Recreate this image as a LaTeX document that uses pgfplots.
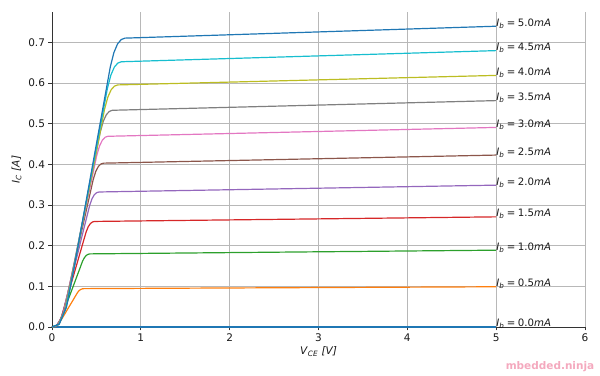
\documentclass[border=0pt]{standalone}
\usepackage{fontspec}
\setmainfont{DejaVu Sans}
\usepackage{pgfplots}
\pgfplotsset{compat=1.18}
\definecolor{c0}{HTML}{1F77B4}
\definecolor{c1}{HTML}{FF7F0E}
\definecolor{c2}{HTML}{2CA02C}
\definecolor{c3}{HTML}{D62728}
\definecolor{c4}{HTML}{9467BD}
\definecolor{c5}{HTML}{8C564B}
\definecolor{c6}{HTML}{E377C2}
\definecolor{c7}{HTML}{7F7F7F}
\definecolor{c8}{HTML}{BCBD22}
\definecolor{c9}{HTML}{17BECF}
\definecolor{spine}{HTML}{333333}
\definecolor{wm}{HTML}{F4A9BE}
\newcommand{\lab}[1]{\textit{I}\textsubscript{\textit{b}}\hspace{2.5bp}=\hspace{2.5bp}#1\textit{mA}}
\begin{document}
\begin{tikzpicture}
\begin{axis}[name=ax, scale only axis, width=533bp, height=315bp,
  xmin=0, xmax=6, ymin=0, ymax=0.775,
  axis x line*=bottom, axis y line*=left,
  axis line style={-, draw=spine, line width=0.8bp},
  tick align=outside, major tick length=3.5bp,
  tick style={spine, line width=0.8bp},
  grid=major, grid style={color=black!28, line width=0.8bp},
  xtick={0,1,2,3,4,5,6},
  ytick={0,0.1,0.2,0.3,0.4,0.5,0.6,0.7},
  yticklabel style={/pgf/number format/.cd, fixed, fixed zerofill, precision=1},
  /pgf/number format/assume math mode=true,
  ticklabel style={font=\fontsize{10.5bp}{12bp}\selectfont, text=black!90},
  xlabel={\textit{V}\textsubscript{\textit{CE}} \textit{[V]}},
  ylabel={\textit{I}\textsubscript{\textit{C}} \textit{[A]}},
  label style={font=\fontsize{10.5bp}{12bp}\selectfont, text=black!90},
  xlabel style={yshift=2bp},
  clip=false,
  every axis plot/.append style={line width=1.2bp},
]
\addplot[c0] coordinates {(0,0) (5,0)};
\addplot[c1] coordinates {(0,0) (0.036,0.0009) (0.072,0.0066) (0.108,0.0189) (0.144,0.0321) (0.18,0.0453) (0.216,0.0585) (0.252,0.0717) (0.288,0.0850) (0.306,0.0897) (0.324,0.0925) (0.342,0.0939) (0.36,0.0944) (5,0.099)};
\addplot[c2] coordinates {(0,0) (0.043,0.0018) (0.086,0.0126) (0.129,0.0360) (0.172,0.0612) (0.215,0.0864) (0.258,0.1115) (0.301,0.1367) (0.344,0.1619) (0.3655,0.1709) (0.387,0.1763) (0.4085,0.1790) (0.43,0.1799) (5,0.189)};
\addplot[c3] coordinates {(0,0) (0.048,0.0026) (0.096,0.0182) (0.144,0.0519) (0.192,0.0883) (0.24,0.1247) (0.288,0.1610) (0.336,0.1974) (0.384,0.2337) (0.408,0.2467) (0.432,0.2545) (0.456,0.2584) (0.48,0.2597) (5,0.271)};
\addplot[c4] coordinates {(0,0) (0.053,0.0033) (0.106,0.0233) (0.159,0.0664) (0.212,0.1129) (0.265,0.1595) (0.318,0.2060) (0.371,0.2525) (0.424,0.2990) (0.4505,0.3156) (0.477,0.3256) (0.5035,0.3305) (0.53,0.3322) (5,0.349)};
\addplot[c5] coordinates {(0,0) (0.058,0.0040) (0.116,0.0282) (0.174,0.0806) (0.232,0.1371) (0.29,0.1935) (0.348,0.2499) (0.406,0.3064) (0.464,0.3628) (0.493,0.3829) (0.522,0.3950) (0.551,0.4011) (0.58,0.4031) (5,0.423)};
\addplot[c6] coordinates {(0,0) (0.063,0.0047) (0.126,0.0328) (0.189,0.0938) (0.252,0.1595) (0.315,0.2252) (0.378,0.2909) (0.441,0.3566) (0.504,0.4223) (0.5355,0.4457) (0.567,0.4598) (0.5985,0.4669) (0.63,0.4692) (5,0.491)};
\addplot[c7] coordinates {(0,0) (0.068,0.0053) (0.136,0.0373) (0.204,0.1066) (0.272,0.1813) (0.34,0.2559) (0.408,0.3306) (0.476,0.4052) (0.544,0.4799) (0.578,0.5065) (0.612,0.5225) (0.646,0.5305) (0.68,0.5332) (5,0.557)};
\addplot[c8] coordinates {(0,0) (0.074,0.0060) (0.148,0.0417) (0.222,0.1191) (0.296,0.2025) (0.37,0.2859) (0.444,0.3693) (0.518,0.4527) (0.592,0.5360) (0.629,0.5658) (0.666,0.5837) (0.703,0.5926) (0.74,0.5956) (5,0.619)};
\addplot[c9] coordinates {(0,0) (0.078,0.0065) (0.156,0.0457) (0.234,0.1305) (0.312,0.2219) (0.39,0.3132) (0.468,0.4046) (0.546,0.4960) (0.624,0.5873) (0.663,0.6200) (0.702,0.6395) (0.741,0.6493) (0.78,0.6526) (5,0.680)};
\addplot[c0] coordinates {(0,0) (0.082,0.0071) (0.164,0.0497) (0.246,0.1421) (0.328,0.2416) (0.41,0.3411) (0.492,0.4406) (0.574,0.5401) (0.656,0.6396) (0.697,0.6752) (0.738,0.6965) (0.779,0.7071) (0.82,0.7107) (5,0.740)};
\begin{scope}[every node/.style={anchor=base west, inner sep=0pt, font=\fontsize{10.2bp}{12bp}\selectfont, text=black!90}]
\node at (axis cs:5,0.000) {\lab{0.0}};
\node at (axis cs:5,0.099) {\lab{0.5}};
\node at (axis cs:5,0.189) {\lab{1.0}};
\node at (axis cs:5,0.271) {\lab{1.5}};
\node at (axis cs:5,0.349) {\lab{2.0}};
\node at (axis cs:5,0.423) {\lab{2.5}};
\node at (axis cs:5,0.491) {\lab{3.0}};
\node at (axis cs:5,0.557) {\lab{3.5}};
\node at (axis cs:5,0.619) {\lab{4.0}};
\node at (axis cs:5,0.680) {\lab{4.5}};
\node at (axis cs:5,0.740) {\lab{5.0}};
\end{scope}
\end{axis}
\node[font=\bfseries\fontsize{10.5bp}{12bp}\selectfont, text=wm] at ([shift={(-35bp,-40bp)}]ax.south east) {mbedded.ninja};
\path ([shift={(-52bp,-48bp)}]ax.south west) rectangle ([shift={(15bp,12bp)}]ax.north east);
\end{tikzpicture}
\end{document}
